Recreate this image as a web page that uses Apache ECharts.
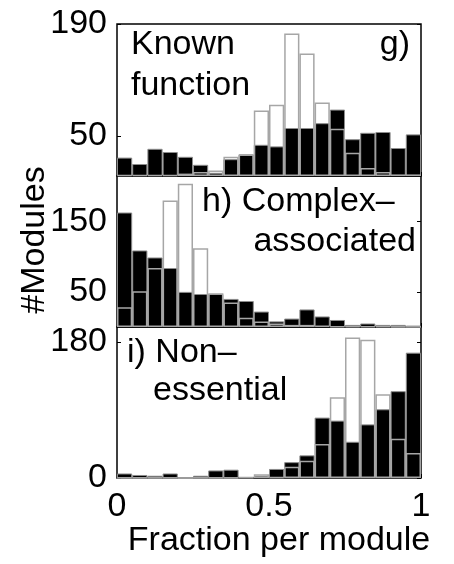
<!DOCTYPE html>
<html>
<head>
<meta charset="utf-8">
<script src="https://cdn.jsdelivr.net/npm/echarts@6/dist/echarts.min.js"></script>
<style>
  html, body { margin: 0; padding: 0; background: #fff; }
  #chart { width: 454px; height: 564px; }
</style>
</head>
<body>
<div id="chart"></div>
<script>
// 20 bins of width 0.05 between 0 and 1
const binCenters = ['0.025', '0.075', '0.125', '0.175', '0.225', '0.275', '0.325', '0.375', '0.425', '0.475',
  '0.525', '0.575', '0.625', '0.675', '0.725', '0.775', '0.825', '0.875', '0.925', '0.975'];

// g) Known function
const knownBlack = [23, 15, 34, 30, 24, 14, 4, 21, 27, 39, 37, 60, 60, 66, 83, 46, 54, 55, 35, 52];
const knownGray = [1, 1, 1, 1, 3, 5, 7, 24, 27, 82, 89, 178, 153, 92, 59, 29, 10, 5, 2, 2];

// h) Complex-associated
const complexBlack = [163, 109, 99, 84, 50, 47, 47, 40, 37, 22, 8, 12, 25, 15, 10, 3, 5, 3, 3, 2];
const complexGray = [28, 51, 84, 180, 204, 112, 48, 35, 13, 8, 5, 3, 3, 2, 1, 1, 1, 1, 0, 0];

// i) Non-essential
const nonessBlack = [6, 4, 3, 6, 0, 3, 10, 11, 1, 3, 12, 21, 30, 80, 76, 48, 71, 91, 115, 166];
const nonessGray = [0, 0, 0, 0, 0, 0, 0, 0, 1, 5, 1, 15, 23, 45, 107, 186, 183, 111, 52, 33];

// y ranges and tick labels per panel
const yMax = [190, 215, 200];
const yTicks = [[50, 190], [50, 150], [0, 180]];
const xTicks = ['0', '0.5', '1'];

const FONT = 'Liberation Sans, Arial, Helvetica, sans-serif';
const panels = [
  { black: knownBlack, gray: knownGray },
  { black: complexBlack, gray: complexGray },
  { black: nonessBlack, gray: nonessGray },
];

const grids = [
  { left: 117, top: 24, width: 304, height: 152 },
  { left: 117, top: 176, width: 304, height: 151 },
  { left: 117, top: 327, width: 304, height: 151 },
];

const xAxis = [];
const yAxis = [];
const series = [];

panels.forEach((p, i) => {
  const isLast = i === panels.length - 1;
  // hidden category axis carrying the bars
  xAxis.push({ type: 'category', gridIndex: i, position: 'top', data: binCenters, show: false, boundaryGap: true });
  // value axis for the 0 / 0.5 / 1 ticks
  xAxis.push({
    type: 'value', gridIndex: i, position: 'bottom', min: 0, max: 1, interval: 0.5,
    axisLine: { show: false },
    splitLine: { show: false },
    axisTick: { show: true, inside: true, length: 4, lineStyle: { color: '#000', width: 1 } },
    axisLabel: {
      show: isLast, margin: 12, color: '#000', fontSize: 34, fontFamily: FONT,
      formatter: (v) => xTicks[Math.round(v * 2)],
    },
  });
  yAxis.push({
    type: 'value', gridIndex: i, position: 'left', min: 0, max: yMax[i],
    axisLine: { show: false },
    splitLine: { show: false },
    axisTick: { show: true, inside: true, length: 4, customValues: yTicks[i], lineStyle: { color: '#000', width: 1 } },
    axisLabel: { show: true, margin: 10, color: '#000', fontSize: 34, fontFamily: FONT, customValues: yTicks[i] },
  });
  yAxis.push({
    type: 'value', gridIndex: i, position: 'right', min: 0, max: yMax[i],
    axisLine: { show: false },
    splitLine: { show: false },
    axisTick: { show: true, inside: true, length: 4, customValues: yTicks[i], lineStyle: { color: '#000', width: 1 } },
    axisLabel: { show: false },
  });
  series.push({
    type: 'bar', xAxisIndex: i * 2, yAxisIndex: i * 2, data: p.black,
    barCategoryGap: '0%', barGap: '-100%',
    itemStyle: { color: '#000', borderColor: '#8c8c8c', borderWidth: 1 },
    silent: true, animation: false,
  });
  series.push({
    type: 'bar', xAxisIndex: i * 2, yAxisIndex: i * 2, data: p.gray,
    barCategoryGap: '0%', barGap: '-100%',
    itemStyle: { color: 'rgba(0,0,0,0)', borderColor: '#a6a6a6', borderWidth: 1.5 },
    silent: true, animation: false,
  });
});

function label(text, x, y, align, extra) {
  return Object.assign({
    type: 'text', x: x, y: y, z: 100,
    style: { text: text, fill: '#000', fontSize: 34, fontFamily: FONT, align: align, verticalAlign: 'middle' },
  }, extra || {});
}

const chart = echarts.init(document.getElementById('chart'), null, { renderer: 'canvas' });
chart.setOption({
  animation: false,
  backgroundColor: '#fff',
  grid: grids.map((g) => Object.assign({ show: true, borderColor: '#000', borderWidth: 1.5, backgroundColor: 'transparent' }, g)),
  xAxis: xAxis,
  yAxis: yAxis,
  series: series,
  graphic: [
    label('Known', 131, 45, 'left'),
    label('function', 131, 86, 'left'),
    label('g)', 410, 45, 'right'),
    label('h) Complex\u2013', 202, 202, 'left'),
    label('associated', 416, 242, 'right'),
    label('i) Non\u2013', 127, 353, 'left'),
    label('essential', 153, 391, 'left'),
    label('Fraction per module', 279, 541, 'center'),
    label('#Modules', 35, 240, 'center', { rotation: Math.PI / 2 }),
  ],
});
</script>
</body>
</html>
